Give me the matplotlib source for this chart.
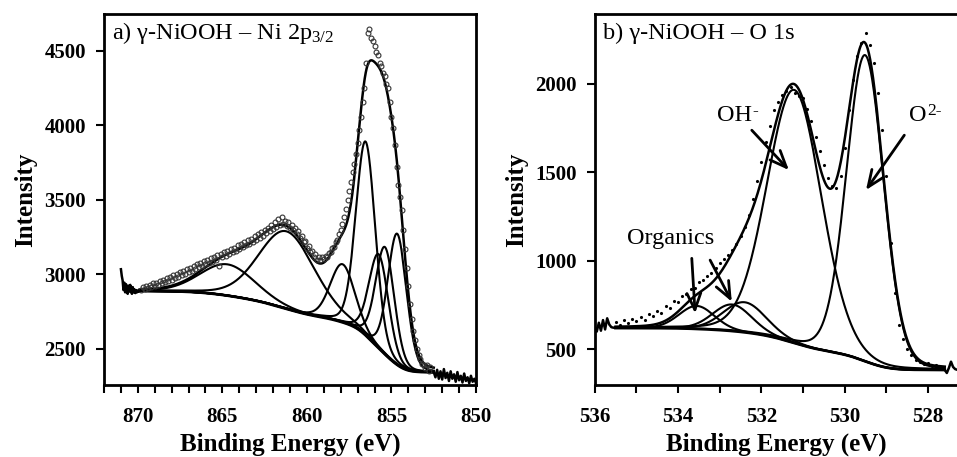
import numpy as np
import matplotlib
matplotlib.use("Agg")
import matplotlib.pyplot as plt
from matplotlib.ticker import MultipleLocator

plt.rcParams['font.family'] = ['Liberation Serif', 'DejaVu Serif']
plt.rcParams['mathtext.fontset'] = 'custom'
plt.rcParams['mathtext.rm'] = 'Liberation Serif'

# Ni 2p3/2 fit components: centre (eV), height above background, FWHM (eV)
ni_centers = [864.7, 861.2, 857.9, 856.53, 855.75, 855.38, 854.66]
ni_heights = [210, 520, 390, 1300, 630, 720, 880]
ni_fwhm = [3.8, 3.9, 1.7, 1.35, 1.35, 1.3, 1.3]
ni_bg_low, ni_bg_high = 2343, 2889
ni_range = (852.5, 869.9)

# measured Ni 2p points, 869.8 eV down to 852.7 eV every 0.1 eV
ni_data = [2895, 2915, 2900, 2925, 2910, 2930, 2915, 2940, 2925, 2945,
           2930, 2955, 2940, 2965, 2950, 2975, 2955, 2980, 2965, 2995,
           2975, 3000, 2985, 3015, 2995, 3025, 3005, 3035, 3015,
           3045, 3025, 3060, 3035, 3070, 3050, 3080, 3060, 3090, 3070,
           3100, 3075, 3110, 3085, 3120, 3100, 3130, 3060, 3140, 3115,
           3150, 3125, 3160, 3140, 3170, 3150, 3180, 3160, 3195, 3170,
           3205, 3185, 3215, 3195, 3230, 3205, 3240, 3220, 3255, 3230,
           3270, 3245, 3285, 3260, 3300, 3275, 3315, 3290, 3330, 3305,
           3350, 3320, 3370, 3335, 3385, 3340, 3360, 3325, 3350, 3310,
           3335, 3295, 3315, 3270, 3290, 3245, 3255, 3215, 3225, 3180,
           3190, 3150, 3160, 3120, 3135, 3100, 3120, 3095, 3115, 3105,
           3125, 3120, 3145, 3150, 3175, 3185, 3215, 3230, 3270, 3295,
           3340, 3385, 3440, 3500, 3560, 3620, 3690, 3740, 3810, 3880,
           3970, 4060, 4160, 4250, 4420, 4620, 4650, 4590, 4570, 4530,
           4490, 4470, 4420, 4400, 4350, 4330, 4280, 4250, 4160, 4060,
           3980, 3870, 3720, 3600, 3520, 3430, 3300, 3170, 3040, 2920,
           2800, 2700, 2620, 2560, 2500, 2460, 2430, 2400, 2390, 2370,
           2395, 2355, 2380]
# raw trace outside the fitted window
ni_edge_hi_e = [871.0, 870.95, 870.9, 870.85, 870.8, 870.75, 870.7, 870.65, 870.6, 870.55,
                870.5, 870.45, 870.4, 870.35, 870.3, 870.25, 870.2, 870.15, 870.1, 870.05,
                870.0, 869.95, 869.9]
ni_edge_hi = [3035, 2990, 2960, 2895, 2945, 2880, 2935, 2900, 2870, 2925,
              2885, 2930, 2890, 2870, 2915, 2880, 2900, 2875, 2895, 2880,
              2892, 2885, 2889]
ni_edge_lo_e = [852.5, 852.4, 852.3, 852.2, 852.1, 852.0, 851.9, 851.8, 851.7, 851.6,
                851.5, 851.4, 851.3, 851.2, 851.1, 851.0, 850.9, 850.8, 850.7, 850.6,
                850.5, 850.4, 850.3, 850.2, 850.1, 850.0]
ni_edge_lo = [2345, 2310, 2360, 2300, 2350, 2295, 2365, 2305, 2340, 2285,
              2350, 2300, 2330, 2280, 2345, 2290, 2320, 2275, 2335, 2285,
              2310, 2270, 2320, 2280, 2300, 2270]

# O 1s fit components
o_centers = [533.55, 532.7, 532.4, 531.21, 529.51]
o_heights = [130, 150, 170, 1430, 1730]
o_fwhm = [1.0, 1.1, 1.2, 1.54, 1.05]
o_bg_low, o_bg_high = 383, 620
o_range = (527.6, 535.5)

# measured O 1s points, 535.5 eV down to 527.8 eV every 0.1 eV
o_data = [655, 640, 665, 650, 672, 660, 685, 668, 700, 690,
          715, 705, 745, 735, 775, 770, 800, 815, 840, 845,
          880, 890, 915, 930, 960, 985, 1010, 1035, 1060, 1095,
          1140, 1190, 1260, 1350, 1450, 1560, 1670, 1760, 1850, 1900,
          1935, 1960, 1985, 1950, 1930, 1920, 1860, 1790, 1700, 1620,
          1540, 1470, 1420, 1410, 1480, 1640, 1850, 2020, 2160, 2230,
          2290, 2220, 2120, 1950, 1740, 1480, 1100, 820, 640, 560,
          500, 470, 440, 430, 415, 425, 405, 410]
o_edge_hi_e = [536.0, 535.95, 535.9, 535.85, 535.8, 535.75, 535.7, 535.65, 535.6, 535.55, 535.5]
o_edge_hi = [630, 600, 650, 605, 665, 612, 675, 640, 625, 622, 622]
o_edge_lo_e = [527.6, 527.55, 527.5, 527.45, 527.4, 527.35, 527.3, 527.26]
o_edge_lo = [383, 366, 395, 430, 400, 388, 384, 383]


def pv(e, c, h, w, eta):
    d = (e - c) / w
    return h * ((1 - eta) * np.exp(-4 * np.log(2) * d ** 2) + eta / (1 + 4 * d ** 2))


def fit_curves(rng, centers, heights, widths, low, high, eta):
    e = np.arange(rng[0], rng[1] + 0.001, 0.01)
    peaks = [pv(e, c, h, w, eta) for c, h, w in zip(centers, heights, widths)]
    tot = np.sum(peaks, axis=0)
    # Shirley-type background
    area = np.cumsum(tot)
    bg = low + (high - low) * area / area[-1]
    return e, bg, peaks, bg + tot


def draw(ax, rng, centers, heights, widths, low, high, eta):
    e, bg, peaks, env = fit_curves(rng, centers, heights, widths, low, high, eta)
    ax.plot(e, bg, color='k', lw=2)
    for p in peaks:
        ax.plot(e, bg + p, color='k', lw=1.5)
    ax.plot(e, env, color='k', lw=1.8)


def style(ax):
    for s in ax.spines.values():
        s.set_linewidth(2)
    ax.tick_params(which='both', direction='out', length=6, width=1.5, top=False, right=False)
    ax.tick_params(axis='x', labelsize=15, pad=10)
    ax.tick_params(axis='y', labelsize=15, pad=7)
    for lab in ax.get_xticklabels() + ax.get_yticklabels():
        lab.set_fontweight('bold')
    ax.set_xlabel('Binding Energy (eV)', fontsize=18, fontweight='bold', labelpad=4)
    ax.set_ylabel('Intensity', fontsize=18, fontweight='bold', labelpad=5)


def ion_label(ax, x, y, base, sup):
    t = ax.annotate(base, xy=(x, y), fontsize=17.5, ha='center', va='center')
    ax.annotate(sup, xy=(1, 1), xycoords=t, xytext=(0.5, 1), textcoords='offset points',
                fontsize=12.5, ha='left', va='top')


fig = plt.figure(figsize=(9.57, 4.57), dpi=100)

# a) Ni 2p
ax1 = fig.add_axes([0.1087, 0.1575, 0.3887, 0.8119])
draw(ax1, ni_range, ni_centers, ni_heights, ni_fwhm, ni_bg_low, ni_bg_high, 0.15)
ni_e = np.round(869.8 - 0.1 * np.arange(len(ni_data)), 1)
ax1.plot(ni_e, ni_data, 'o', ms=3.5, mfc='none', mec='#333333', mew=0.8)
ax1.plot(ni_edge_hi_e, ni_edge_hi, color='k', lw=1.8)
ax1.plot(ni_edge_lo_e, ni_edge_lo, color='k', lw=1.8)
ax1.set_xlim(872, 850)
ax1.set_ylim(2258, 4748)
ax1.set_xticks([870, 865, 860, 855, 850])
ax1.xaxis.set_minor_locator(MultipleLocator(1))
ax1.set_yticks([2500, 3000, 3500, 4000, 4500])
style(ax1)
ax1.text(0.022, 0.949, 'a) \u03b3-NiOOH \u2013 Ni 2p$\\mathregular{_{3/2}}$', transform=ax1.transAxes,
         fontsize=17.5, va='center', ha='left')

# b) O 1s
ax2 = fig.add_axes([0.6214, 0.1575, 0.3806, 0.8119])
draw(ax2, o_range, o_centers, o_heights, o_fwhm, o_bg_low, o_bg_high, 0.1)
o_e = np.round(535.5 - 0.1 * np.arange(len(o_data)), 1)
ax2.plot(o_e, o_data, '.', ms=2.5, color='k')
ax2.plot(o_edge_hi_e, o_edge_hi, color='k', lw=1.8)
ax2.plot(o_edge_lo_e, o_edge_lo, color='k', lw=1.8)
ax2.set_xlim(536, 527.26)
ax2.set_ylim(298, 2395)
ax2.set_xticks([536, 534, 532, 530, 528])
ax2.xaxis.set_minor_locator(MultipleLocator(1))
ax2.set_yticks([500, 1000, 1500, 2000])
ax2.spines['right'].set_visible(False)
style(ax2)
ax2.text(0.023, 0.949, 'b) \u03b3-NiOOH \u2013 O 1s', transform=ax2.transAxes,
         fontsize=17.5, va='center', ha='left')

arrow = dict(arrowstyle='->, head_length=1.2, head_width=0.5', lw=2, color='k',
             shrinkA=0, shrinkB=0)
ion_label(ax2, 532.65, 1823, 'OH', '-')
ax2.annotate('', xy=(531.34, 1513), xytext=(532.23, 1738), arrowprops=arrow)
ion_label(ax2, 528.25, 1823, 'O', '2-')
ax2.annotate('', xy=(529.49, 1400), xytext=(528.57, 1710), arrowprops=arrow)
ax2.text(534.17, 1128, 'Organics', fontsize=17.5, ha='center', va='center')
ax2.annotate('', xy=(533.59, 703), xytext=(533.67, 1014), arrowprops=arrow)
ax2.annotate('', xy=(532.71, 769), xytext=(533.23, 1004), arrowprops=arrow)

fig.savefig('out.png', dpi=100)
